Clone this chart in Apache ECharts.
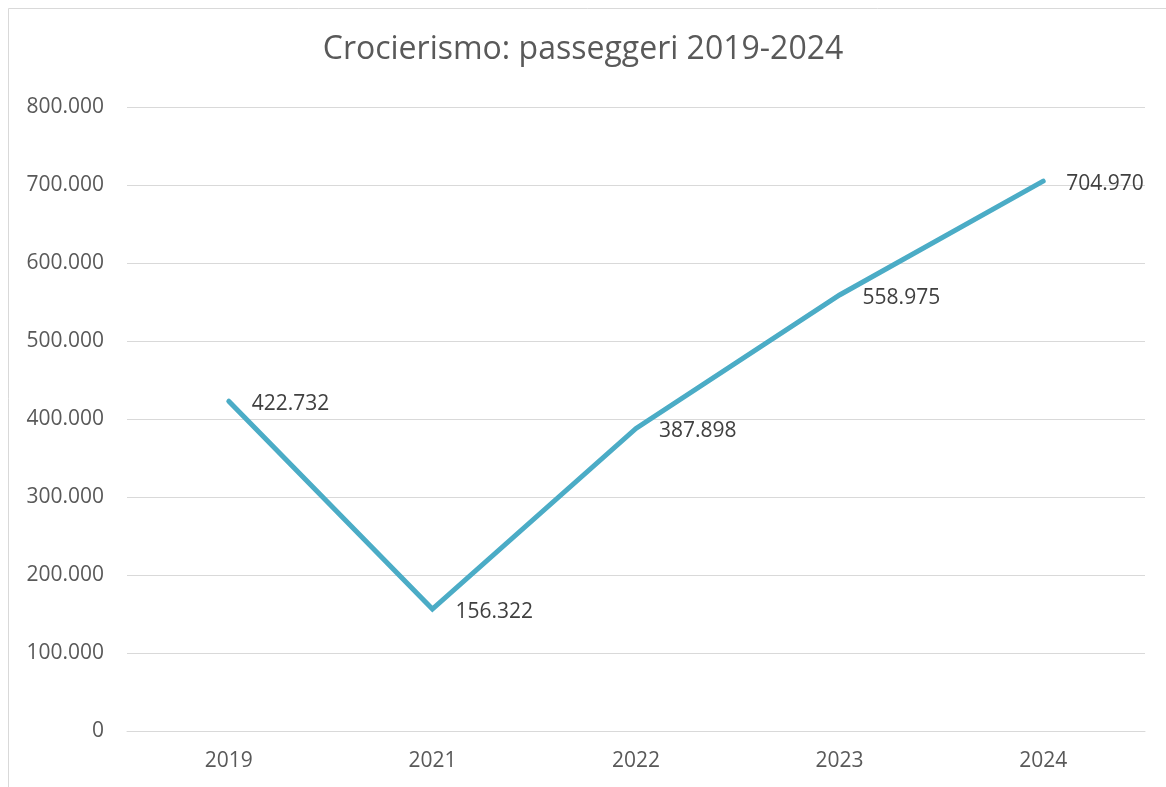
<!DOCTYPE html>
<html>
<head>
<meta charset="utf-8">
<script src="https://cdn.jsdelivr.net/npm/echarts@6/dist/echarts.min.js"></script>
<style>
  html, body { margin: 0; padding: 0; background: #fff; }
  #chart { width: 1166px; height: 787px; }
</style>
</head>
<body>
<div id="chart"></div>
<script>
// Cruise passengers per year
const years = ['2019', '2021', '2022', '2023', '2024'];
const passengers = [422732, 156322, 387898, 558975, 704970];
const yTicks = { min: 0, max: 800000, step: 100000 };

// Italian-style thousands separator: 422732 -> 422.732
function fmt(v) {
  return String(Math.round(v)).replace(/\B(?=(\d{3})+(?!\d))/g, '.');
}

const FONT = '"Open Sans", "Noto Sans", sans-serif';
const chart = echarts.init(document.getElementById('chart'), null, { renderer: 'canvas' });

chart.setOption({
  backgroundColor: '#ffffff',
  animation: false,
  graphic: [{
    type: 'rect',
    shape: { x: 8.5, y: 8.5, width: 1300, height: 900 },
    style: { fill: 'none', stroke: '#d9d9d9', lineWidth: 1 },
    silent: true
  }],
  title: {
    text: 'Crocierismo: passeggeri 2019-2024',
    left: 'center',
    top: 29,
    textStyle: { fontFamily: FONT, fontSize: 32, fontWeight: 'normal', color: '#595959' }
  },
  grid: { left: 127, right: 21, top: 107, bottom: 56, containLabel: false },
  xAxis: {
    type: 'category',
    data: years,
    boundaryGap: true,
    axisLine: { show: true, lineStyle: { color: '#d9d9d9', width: 1 } },
    axisTick: { show: false },
    axisLabel: { fontFamily: FONT, fontSize: 21, color: '#595959', margin: 20 }
  },
  yAxis: {
    type: 'value',
    min: yTicks.min,
    max: yTicks.max,
    interval: yTicks.step,
    axisLine: { show: false },
    axisTick: { show: false },
    splitLine: { lineStyle: { color: '#d9d9d9', width: 1 } },
    axisLabel: {
      fontFamily: FONT, fontSize: 21, color: '#595959', margin: 23,
      formatter: fmt
    }
  },
  series: [{
    type: 'line',
    data: passengers,
    symbol: 'circle',
    symbolSize: 2,
    showSymbol: true,
    itemStyle: { color: '#4bacc6', borderWidth: 0 },
    lineStyle: { color: '#4bacc6', width: 5, cap: 'round', join: 'miter' },
    label: {
      show: true,
      position: 'right',
      distance: 20,
      offset: [2, 3],
      fontFamily: FONT,
      fontSize: 21,
      color: '#404040',
      formatter: p => fmt(p.value)
    }
  }]
});
</script>
</body>
</html>
